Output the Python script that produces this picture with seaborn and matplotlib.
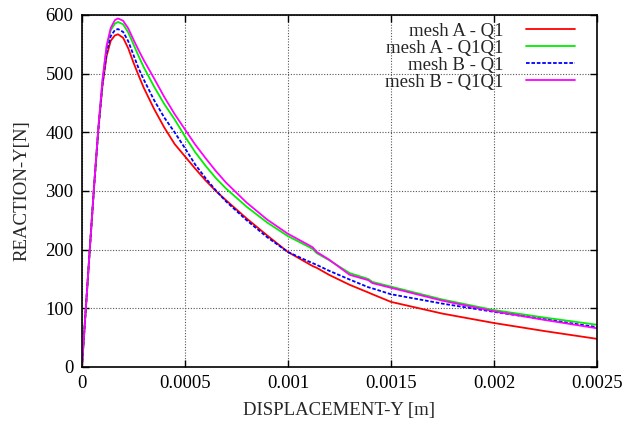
import pandas as pd
import matplotlib
matplotlib.use("Agg")
import matplotlib.pyplot as plt
import seaborn as sns

# --- data (displacement [m], reaction [N]) ---
disp = [0, 0.00002, 0.00004, 0.00006, 0.00008, 0.0001, 0.00012, 0.00014, 0.00016,
        0.000175, 0.0002, 0.000225, 0.00025, 0.000275, 0.0003, 0.00035, 0.0004,
        0.00045, 0.0005, 0.00055, 0.0006, 0.00065, 0.0007, 0.0008, 0.0009, 0.001,
        0.0011, 0.00112, 0.00114, 0.0012, 0.0013, 0.00139, 0.00141, 0.0015,
        0.00175, 0.002, 0.00225, 0.0025]

mesh_a_q1 = [0, 105, 210, 312, 405, 480, 530, 556, 565, 567, 561, 543, 519, 497, 476,
             440, 408, 380, 359, 338, 318, 300, 284, 253, 224, 196, 176, 172, 169, 157,
             140, 127, 124, 111, 91, 75, 61, 48]
mesh_a_q1q1 = [0, 105, 210, 313, 408, 488, 545, 574, 585, 588, 584, 570, 550, 530, 511,
               478, 448, 422, 393, 366, 343, 322, 304, 273, 246, 223, 205, 201, 194, 182,
               160, 150, 145, 137, 115, 97, 84, 72]
mesh_b_q1 = [0, 105, 210, 312, 406, 483, 536, 564, 574, 576, 571, 555, 532, 509, 490,
             455, 425, 400, 373, 345, 322, 301, 282, 250, 221, 196, 180, 177, 174, 164,
             149, 136, 134, 124, 108, 94, 81, 68]
mesh_b_q1q1 = [0, 105, 210, 313, 409, 490, 548, 578, 591, 594, 590, 577, 558, 540, 523,
               492, 460, 431, 405, 379, 356, 334, 314, 280, 251, 227, 208, 204, 196, 183,
               157, 148, 143, 135, 113, 95, 80, 66]

labels = ["mesh A - Q1", "mesh A - Q1Q1", "mesh B - Q1", "mesh B - Q1Q1"]
colors = ["#ff0000", "#00ee00", "#0000ff", "#ff00ff"]
styles = ["-", "-", (0, (2, 1)), "-"]
series = [mesh_a_q1, mesh_a_q1q1, mesh_b_q1, mesh_b_q1q1]

sns.set_style("ticks")
plt.rcParams["font.family"] = ["Liberation Serif", "DejaVu Serif"]

fig = plt.figure(figsize=(6.35, 4.26), dpi=100)
ax = fig.add_axes([0.129, 0.1385, 0.811, 0.8265])

for vals, lab, col, ls in zip(series, labels, colors, styles):
    df = pd.DataFrame({"disp": disp, "reaction": vals})
    sns.lineplot(data=df, x="disp", y="reaction", ax=ax, color=col,
                 linestyle=ls, linewidth=1.3, label=lab, sort=False)

ax.set_xlim(0, 0.0025)
ax.set_ylim(0, 600)
ax.set_xticks([0, 0.0005, 0.001, 0.0015, 0.002, 0.0025])
ax.set_xticklabels(["0", "0.0005", "0.001", "0.0015", "0.002", "0.0025"])
ax.set_yticks([0, 100, 200, 300, 400, 500, 600])
ax.grid(True, color="#555555", linestyle=(0, (1, 1.5)), linewidth=0.8)
ax.tick_params(direction="in", length=5, width=1, top=True, right=True,
               labelsize=13.5, colors="black", pad=6)
for sp in ax.spines.values():
    sp.set_linewidth(1.2)
    sp.set_color("black")

ax.set_xlabel("DISPLACEMENT-Y [m]", fontsize=13.5, labelpad=7)
ax.set_ylabel("REACTION-Y[N]", fontsize=13.5, labelpad=11)

leg = ax.legend(loc="upper right", frameon=False, markerfirst=False,
                fontsize=13.5, handlelength=2.6, handletextpad=1.2,
                labelspacing=0.0, borderaxespad=0.3, bbox_to_anchor=(0.982, 1.016))
for vp in leg._legend_handle_box.get_children():
    vp.align = "right"

plt.savefig("out.png", dpi=100)
